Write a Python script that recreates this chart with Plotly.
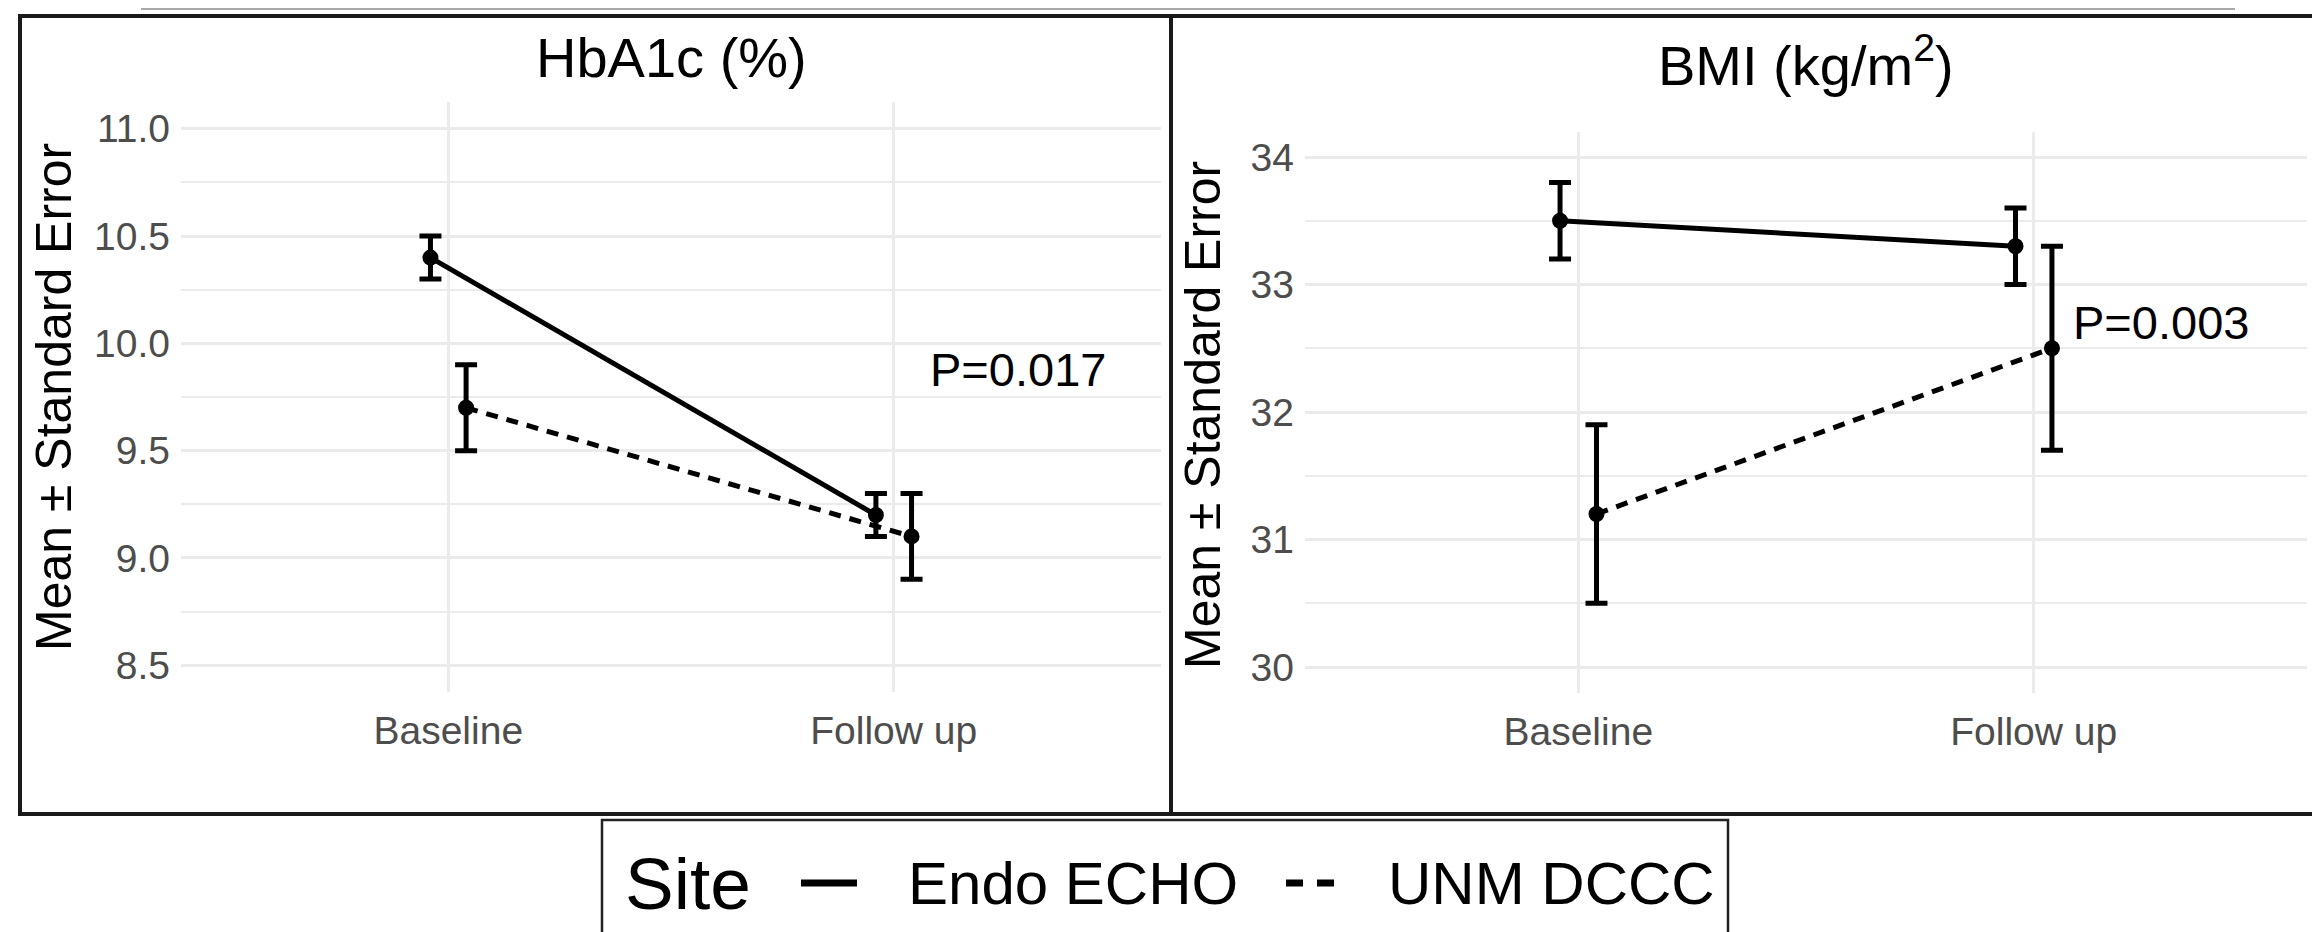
import plotly.graph_objects as go

# ---------------- data ----------------
categories = ["Baseline", "Follow up"]
sites = ["Endo ECHO", "UNM DCCC"]

hba1c_endo = [10.4, 9.2]
hba1c_endo_se = [0.1, 0.1]
hba1c_unm = [9.7, 9.1]
hba1c_unm_se = [0.2, 0.2]

bmi_endo = [33.5, 33.3]
bmi_endo_se = [0.3, 0.3]
bmi_unm = [31.2, 32.5]
bmi_unm_se = [0.7, 0.8]

hba1c_ticks = [8.5, 9.0, 9.5, 10.0, 10.5, 11.0]
bmi_ticks = [30, 31, 32, 33, 34]

p_values = ["P=0.017", "P=0.003"]
panel_titles = ["HbA1c (%)", "BMI (kg/m<sup>2</sup>)"]
y_title = "Mean ± Standard Error"
legend_title = "Site"

# ---------------- layout helpers ----------------
W, H = 2320, 932
FONT = "Liberation Sans, Arial, Helvetica, sans-serif"
DODGE = 0.04
pos = [1, 2]
DASH = "12px,9px"


def px_x(p):
    return p / W


def px_y(p):
    return 1 - p / H


fig = go.Figure()

panels = [
    dict(xa="x", ya="y", endo=hba1c_endo, endo_se=hba1c_endo_se,
         unm=hba1c_unm, unm_se=hba1c_unm_se),
    dict(xa="x2", ya="y2", endo=bmi_endo, endo_se=bmi_endo_se,
         unm=bmi_unm, unm_se=bmi_unm_se),
]

for pnl in panels:
    for name, vals, se, off, dash in [
        (sites[0], pnl["endo"], pnl["endo_se"], -DODGE, "solid"),
        (sites[1], pnl["unm"], pnl["unm_se"], DODGE, DASH),
    ]:
        xs = [p + off for p in pos]
        fig.add_trace(go.Scatter(
            x=xs, y=vals, mode="lines", name=name,
            line=dict(color="black", width=5, dash=dash),
            showlegend=False, xaxis=pnl["xa"], yaxis=pnl["ya"], hoverinfo="skip",
        ))
        fig.add_trace(go.Scatter(
            x=xs, y=vals, mode="markers", name=name,
            marker=dict(color="black", size=16),
            error_y=dict(type="data", array=se, visible=True,
                         color="black", thickness=5, width=11),
            showlegend=False, xaxis=pnl["xa"], yaxis=pnl["ya"],
        ))

grid = "#ebebeb"
tickfont = dict(family=FONT, size=39, color="#4d4d4d")


def xaxis_cfg(dom, anchor):
    return dict(domain=dom, anchor=anchor, range=[0.4, 2.6], tickvals=pos,
                ticktext=categories, showgrid=True, gridcolor=grid, gridwidth=2.5,
                zeroline=False, showline=False, ticks="", tickfont=tickfont,
                ticklabelstandoff=12, fixedrange=True)


def yaxis_cfg(dom, anchor, rng, ticks, fmt):
    minors = [(a + b) / 2 for a, b in zip(ticks[:-1], ticks[1:])]
    return dict(domain=dom, anchor=anchor, range=rng, tickvals=ticks,
                ticktext=[fmt.format(t) for t in ticks],
                showgrid=True, gridcolor=grid, gridwidth=2.5, zeroline=False,
                showline=False, ticks="", tickfont=tickfont,
                ticklabelstandoff=10,
                minor=dict(tickvals=minors, showgrid=True, gridcolor=grid,
                           gridwidth=2, ticks=""),
                fixedrange=True)


fig.update_layout(
    width=W, height=H, autosize=False,
    margin=dict(l=0, r=0, t=0, b=0),
    paper_bgcolor="white", plot_bgcolor="white",
    font=dict(family=FONT, color="black"),
    showlegend=False,
    xaxis=xaxis_cfg([px_x(173), px_x(1153)], "y"),
    yaxis=yaxis_cfg([px_y(684), px_y(94)], "x", [8.375, 11.125], hba1c_ticks, "{:.1f}"),
    xaxis2=xaxis_cfg([px_x(1297), px_x(2299)], "y2"),
    yaxis2=yaxis_cfg([px_y(684.5), px_y(123.5)], "x2", [29.8, 34.2], bmi_ticks, "{:.0f}"),
)

ann = []
# panel titles
ann.append(dict(text=panel_titles[0], xref="x domain", yref="paper", x=0.5, y=px_y(49),
                showarrow=False, font=dict(family=FONT, size=56, color="black"),
                xanchor="center", yanchor="middle"))
ann.append(dict(text=panel_titles[1], xref="x2 domain", yref="paper", x=0.5, y=px_y(54),
                showarrow=False, font=dict(family=FONT, size=56, color="black"),
                xanchor="center", yanchor="middle"))
# y-axis titles
ann.append(dict(text=y_title, xref="paper", yref="paper", x=px_x(46), y=px_y(389),
                textangle=-90, showarrow=False, font=dict(family=FONT, size=50, color="black"),
                xanchor="center", yanchor="middle"))
ann.append(dict(text=y_title, xref="paper", yref="paper", x=px_x(1195), y=px_y(407),
                textangle=-90, showarrow=False, font=dict(family=FONT, size=50, color="black"),
                xanchor="center", yanchor="middle"))
# p-values
ann.append(dict(text=p_values[0], xref="x", yref="y", x=2.28, y=9.88, showarrow=False,
                font=dict(family=FONT, size=47, color="black"), xanchor="center", yanchor="middle"))
ann.append(dict(text=p_values[1], xref="x2", yref="y2", x=2.28, y=32.7, showarrow=False,
                font=dict(family=FONT, size=47, color="black"), xanchor="center", yanchor="middle"))
# legend texts
LEG_Y = 875
ann.append(dict(text=legend_title, xref="paper", yref="paper", x=px_x(615), y=px_y(LEG_Y),
                showarrow=False, font=dict(family=FONT, size=73, color="black"),
                xanchor="left", yanchor="middle"))
ann.append(dict(text=sites[0], xref="paper", yref="paper", x=px_x(898), y=px_y(LEG_Y),
                showarrow=False, font=dict(family=FONT, size=60, color="black"),
                xanchor="left", yanchor="middle"))
ann.append(dict(text=sites[1], xref="paper", yref="paper", x=px_x(1378), y=px_y(LEG_Y),
                showarrow=False, font=dict(family=FONT, size=60, color="black"),
                xanchor="left", yanchor="middle"))
fig.update_layout(annotations=ann)

shapes = [
    # faint line at top
    dict(type="line", xref="paper", yref="paper", x0=px_x(133), x1=px_x(2227),
         y0=px_y(1), y1=px_y(1), line=dict(color="#aaaaaa", width=2)),
    # panel frames
    dict(type="rect", xref="paper", yref="paper", x0=px_x(12), x1=px_x(1163),
         y0=px_y(806), y1=px_y(8), line=dict(color="#1a1a1a", width=4)),
    dict(type="rect", xref="paper", yref="paper", x0=px_x(1163), x1=px_x(2313),
         y0=px_y(806), y1=px_y(8), line=dict(color="#1a1a1a", width=4)),
    # legend box (bottom cut off by the image edge)
    dict(type="rect", xref="paper", yref="paper", x0=px_x(594), x1=px_x(1720),
         y0=px_y(950), y1=px_y(812), line=dict(color="#222222", width=2.5)),
    # legend keys
    dict(type="line", xref="paper", yref="paper", x0=px_x(793), x1=px_x(849),
         y0=px_y(LEG_Y), y1=px_y(LEG_Y), line=dict(color="black", width=7)),
    dict(type="line", xref="paper", yref="paper", x0=px_x(1278), x1=px_x(1326),
         y0=px_y(LEG_Y), y1=px_y(LEG_Y), line=dict(color="black", width=7, dash="17px,14px")),
]
fig.update_layout(shapes=shapes)

fig.write_html("out.html")
